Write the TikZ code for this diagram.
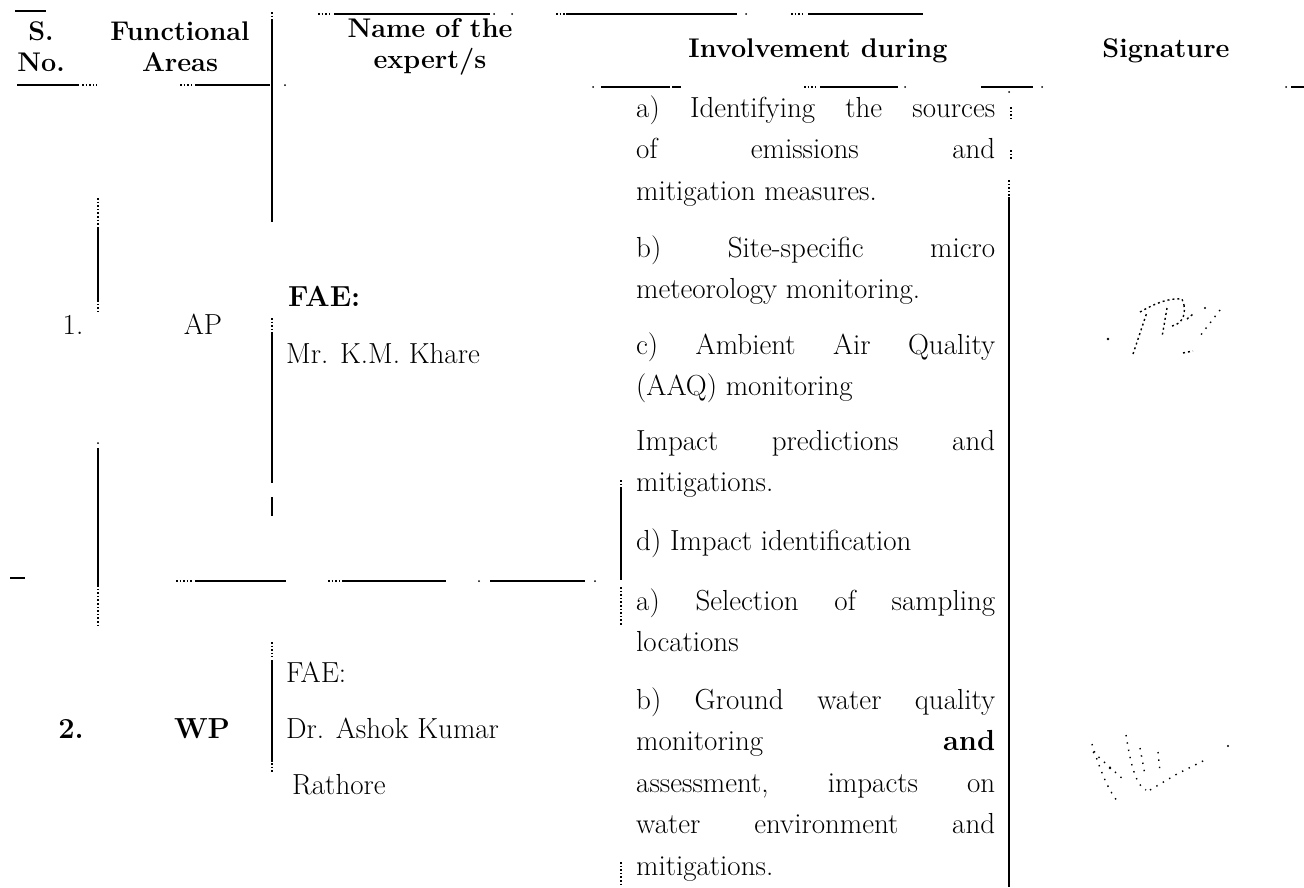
\documentclass[tikz,border=0pt]{standalone}
\usepackage{fontspec}

\begin{document}
\begin{tikzpicture}[x=1pt, y=-1pt,
    rule/.style={line width=1.6pt},
    gap/.style={line width=1.6pt, dotted},
    speck/.style={fill=black},
    head/.style={font=\fontsize{27}{31}\selectfont\bfseries, align=center, inner sep=0pt},
    cell/.style={font=\fontsize{29}{41}\selectfont, inner sep=0pt, anchor=base west},
    para/.style={font=\fontsize{29}{41.5}\selectfont, text width=359pt, align=justify,
        inner sep=0pt, anchor=base west, execute at begin node=\sloppy},
    sig/.style={line width=1.4pt, dash pattern=on 2pt off 3pt},
    sigdots/.style={line width=1.4pt, dash pattern=on 1.4pt off 6pt}]
    \useasboundingbox (0,0) rectangle (1304,887);

    % Header texts
    \node[head] (sno)  at (41,47)   {S.\\No.};
    \node[head] (area) at (180,47)  {Functional\\Areas};
    \node[head] (name) at (430,47)  {Name of the\\expert/s};
    \node[head] (inv)  at (818,51)  {Involvement during};
    \node[head] (sign) at (1166,51) {Signature};

    % Row 1
    \node[cell, anchor=base] (no1)   at (73,334)  {1.};
    \node[cell, anchor=base] (area1) at (203,334) {AP};
    \node[cell] (fae1)  at (288,306) {\bfseries FAE:};
    \node[cell] (exp1)  at (286,363) {Mr. K.M. Khare};
    \node[para] (p1a) at (636,117) {a) Identifying the sources\linebreak of emissions and\linebreak mitigation measures.};
    \node[para] (p1b) at (636,257) {b) Site-specific micro\linebreak meteorology monitoring.};
    \node[para] (p1c) at (636,354) {c) Ambient Air Quality\linebreak (AAQ) monitoring};
    \node[para] (p1d) at (636,450) {Impact predictions and\linebreak mitigations.};
    \node[para] (p1e) at (636,550) {d) Impact identification};

    % Row 2
    \node[cell, anchor=base] (no2)   at (71,738)  {\bfseries 2.};
    \node[cell, anchor=base] (area2) at (202,738) {\bfseries WP};
    \node[cell] (fae2)  at (286,682) {FAE:};
    \node[cell] (exp2)  at (286,738) {Dr. Ashok Kumar};
    \node[cell] (exp2b) at (292,794) {Rathore};
    \node[para] (p2a) at (636,610) {a) Selection of sampling\linebreak locations};
    \node[para] (p2b) at (636,709) {b) Ground water quality\linebreak monitoring \textbf{and}\linebreak
        assessment, impacts on\linebreak water environment and\linebreak mitigations.};

    % Broken horizontal rules
    \draw[rule] (15,11) -- (46,11) (334,14) -- (490,14) (566,14) -- (737,14) (808,14) -- (923,14);
    \draw[gap] (318,14) -- (330,14) (556,14) -- (565,14) (791,14) -- (805,14);
    \draw[rule] (17,85) -- (79,85) (195,85) -- (270,85) (601,87) -- (670,87) (672,87) -- (681,87)
        (820,87) -- (898,87) (981,87) -- (1033,87) (1291,87) -- (1304,87);
    \draw[gap] (82,85) -- (97,85) (180,85) -- (192,85) (804,87) -- (817,87);
    \draw[rule] (10,578) -- (25,578) (195,581) -- (286,581) (342,581) -- (446,581) (490,581) -- (585,581);
    \draw[gap] (176,581) -- (193,581) (328,581) -- (340,581);

    % Broken vertical rules
    \draw[rule] (272,20) -- (272,222) (98,227) -- (98,300) (98,448) -- (98,585)
        (272,333) -- (272,483) (272,497) -- (272,516) (272,660) -- (272,762)
        (621,487) -- (621,580) (1009,197) -- (1009,887);
    \draw[gap] (272,12) -- (272,20) (98,198) -- (98,227) (98,300) -- (98,311) (98,585) -- (98,628)
        (272,318) -- (272,333) (272,642) -- (272,657) (272,763) -- (272,772)
        (621,480) -- (621,487) (621,587) -- (621,625) (621,862) -- (621,887)
        (1009,180) -- (1009,197) (1011,107) -- (1011,118) (1011,150) -- (1011,160);

    % Loose specks of the scan
    \foreach \px/\py in {494/14, 512/14, 746/14, 285/85, 593/87, 905/87, 1009/92, 1042/87,
        1286/87, 98/443, 479/581, 595/581}
        \fill[speck] (\px,\py) circle (1pt);

    % Signature 1
    \fill[speck] (1108,339) circle (1.3pt);
    \draw[sig] (1133,354) -- (1147,312);
    \draw[sig] (1140,312) .. controls (1156,303) and (1168,298) .. (1182,299) -- (1184,305);
    \draw[sig] (1167,308) -- (1162,337);
    \draw[sig] (1184,305) .. controls (1186,318) and (1180,324) .. (1172,326);
    \draw[sig] (1187,319) -- (1193,314);
    \draw[sigdots] (1220,310) -- (1200,336);
    \draw[sig] (1183,353) -- (1193,351);
    \fill[speck] (1205,308) circle (1.1pt);

    % Signature 2
    \draw[sigdots] (1092,744) .. controls (1100,770) and (1108,790) .. (1118,802);
    \draw[sigdots] (1093,752) -- (1124,780);
    \draw[sigdots] (1126,735) .. controls (1130,760) and (1135,785) .. (1146,790);
    \draw[sigdots] (1140,748) -- (1145,775) (1158,752) -- (1160,772);
    \draw[sigdots] (1150,790) -- (1177,774) -- (1205,760);
    \fill[speck] (1228,746) circle (1.2pt);
    \fill[speck] (1110,768) circle (1.4pt);
\end{tikzpicture}
\end{document}
